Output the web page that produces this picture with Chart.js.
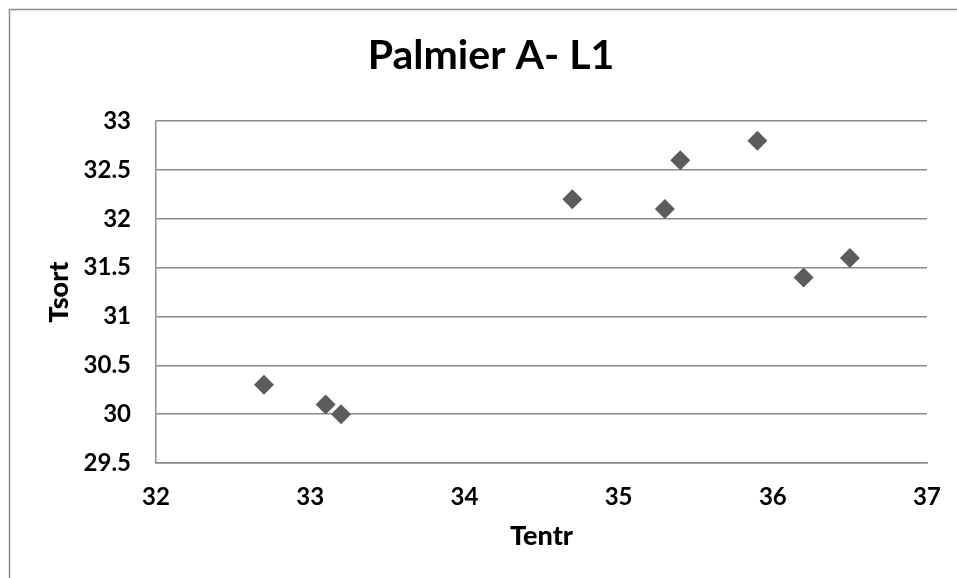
<!DOCTYPE html>
<html><head><meta charset="utf-8">
<script src="https://cdn.jsdelivr.net/npm/chart.js@4.4.0/dist/chart.umd.min.js"></script>
<style>html,body{margin:0;padding:0;background:#fff;}#wrap{position:absolute;left:0;top:0;width:957px;height:578px;}</style>
</head><body><div id="wrap"><canvas id="c" width="957" height="578"></canvas></div>
<script>
const tentr = [32.7, 33.1, 33.2, 34.7, 35.3, 35.4, 35.9, 36.2, 36.5];
const tsort = [30.3, 30.1, 30.0, 32.2, 32.1, 32.6, 32.8, 31.4, 31.6];
const chartTitle = 'Palmier A- L1';
const xTitle = 'Tentr';
const yTitle = 'Tsort';
const xRange = [32, 37];
const yRange = [29.5, 33];

const points = tentr.map((x, i) => ({x: x, y: tsort[i]}));
const FONT = 'Lato, "Open Sans", sans-serif';
const fmt = v => String(Math.round(v * 10) / 10);
const frame = {
  id: 'frame',
  beforeDraw(chart) {
    const ctx = chart.ctx;
    ctx.save();
    ctx.strokeStyle = '#8c8c8c';
    ctx.lineWidth = 1.5;
    ctx.beginPath();
    ctx.moveTo(9.5, 578);
    ctx.lineTo(9.5, 9.5);
    ctx.lineTo(957, 9.5);
    ctx.stroke();
    ctx.restore();
  }
};
new Chart(document.getElementById('c'), {
  type: 'scatter',
  data: { datasets: [{ data: points, pointStyle: 'rectRot', pointRadius: 10, pointHoverRadius: 10,
    backgroundColor: '#5c5c5c', borderColor: '#5c5c5c', borderWidth: 0 }] },
  options: {
    responsive: false, animation: false,
    layout: { padding: { left: 55, right: 30, top: 0, bottom: 0 } },
    plugins: {
      legend: { display: false }, tooltip: { enabled: false },
      title: { display: true, text: chartTitle, color: '#000',
        font: { family: FONT, size: 41, weight: 'bold' }, padding: { top: 31, bottom: 41 } }
    },
    scales: {
      x: { type: 'linear', min: xRange[0], max: xRange[1],
        ticks: { stepSize: 1, color: '#000', padding: 0, callback: fmt, font: { family: FONT, size: 24, weight: 'bold' } },
        grid: { drawOnChartArea: false, drawTicks: true, tickLength: 20, tickColor: 'rgba(0,0,0,0)' },
        border: { display: true, color: '#8a8a8a', width: 1.5 },
        title: { display: true, text: xTitle, color: '#000', font: { family: FONT, size: 27, weight: 900 }, padding: { top: 0, bottom: 26 } },
        afterFit(s) { s.height = 115; }
      },
      y: { type: 'linear', min: yRange[0], max: yRange[1],
        ticks: { stepSize: 0.5, color: '#000', padding: 25, callback: fmt, font: { family: FONT, size: 24, weight: 'bold' } },
        grid: { color: '#8a8a8a', lineWidth: 1.5, drawTicks: false },
        border: { display: true, color: '#8a8a8a', width: 1.5 },
        title: { display: true, text: yTitle, color: '#000', font: { family: FONT, size: 27, weight: 900 }, padding: { top: -12, bottom: 0 } },
        afterFit(s) { s.width = 101; }
      }
    }
  },
  plugins: [frame]
});
</script></body></html>
